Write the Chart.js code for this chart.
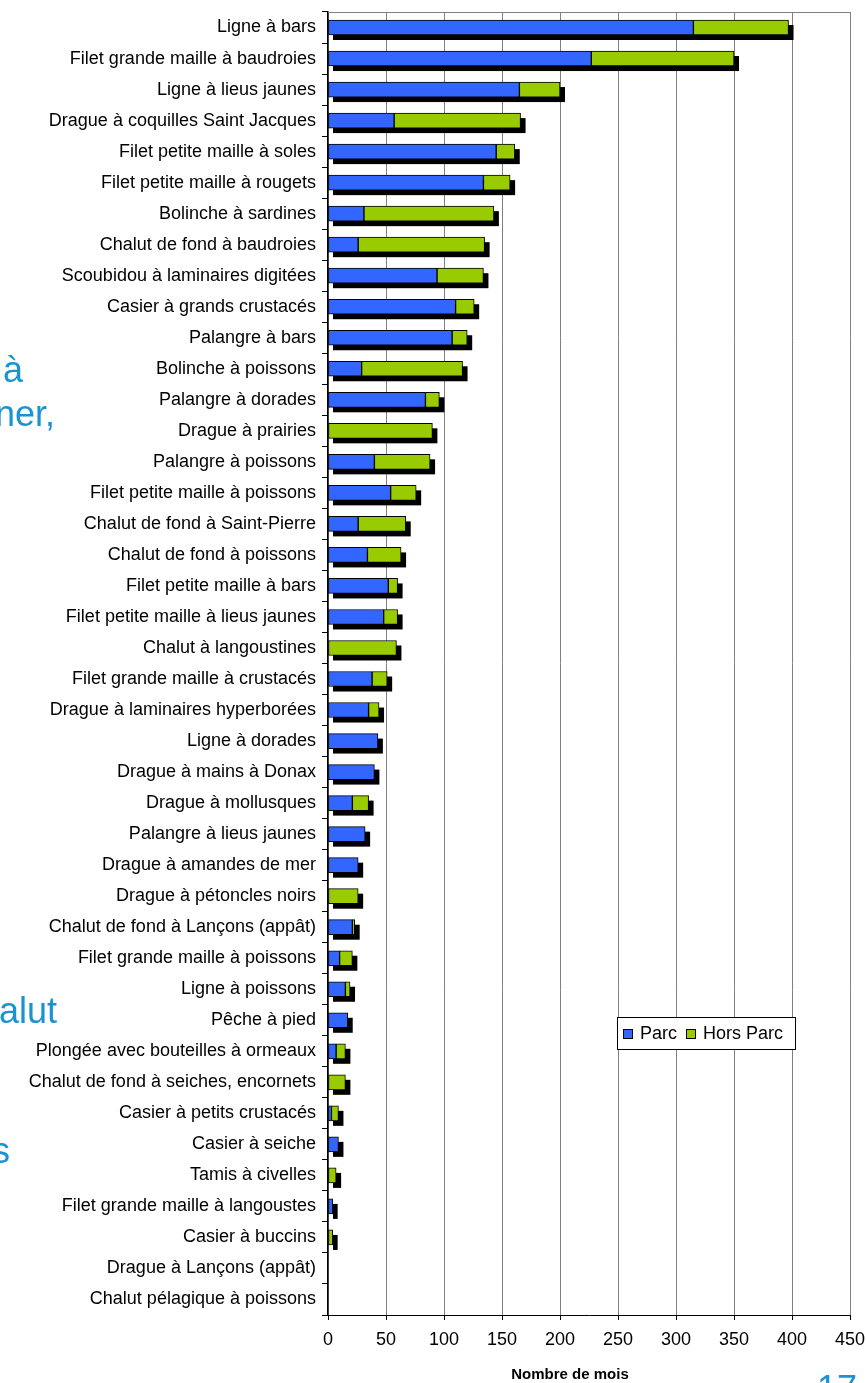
<!DOCTYPE html>
<html lang="fr">
<head>
<meta charset="utf-8">
<title>Nombre de mois par métier</title>
<script src="https://cdn.jsdelivr.net/npm/chart.js@4.4.1/dist/chart.umd.min.js"></script>
<style>
    body { margin: 0; width: 866px; height: 1383px; overflow: hidden; position: relative; background: #fff; }
    canvas { position: absolute; left: 0; top: 0; }
    .frag { position: absolute; font-family: 'Liberation Sans', Arial, sans-serif; font-size: 36px; line-height: 1; color: #1a93d1; white-space: nowrap; }
</style>
</head>
<body>
<canvas id="chart" width="866" height="1383"></canvas>
<div class="frag" style="left:3px;top:352px;">à</div>
<div class="frag" style="left:-5px;top:396px;">ner,</div>
<div class="frag" style="left:-1px;top:993px;">alut</div>
<div class="frag" style="left:-8px;top:1133px;">s</div>
<div class="frag" style="left:817px;top:1371px;">17</div>
<script>
// Métiers, du plus long au plus court
const categories = [
    'Ligne à bars', 'Filet grande maille à baudroies', 'Ligne à lieus jaunes',
    'Drague à coquilles Saint Jacques', 'Filet petite maille à soles', 'Filet petite maille à rougets',
    'Bolinche à sardines', 'Chalut de fond à baudroies', 'Scoubidou à laminaires digitées',
    'Casier à grands crustacés', 'Palangre à bars', 'Bolinche à poissons',
    'Palangre à dorades', 'Drague à prairies', 'Palangre à poissons',
    'Filet petite maille à poissons', 'Chalut de fond à Saint-Pierre', 'Chalut de fond à poissons',
    'Filet petite maille à bars', 'Filet petite maille à lieus jaunes', 'Chalut à langoustines',
    'Filet grande maille à crustacés', 'Drague à laminaires hyperborées', 'Ligne à dorades',
    'Drague à mains à Donax', 'Drague à mollusques', 'Palangre à lieus jaunes',
    'Drague à amandes de mer', 'Drague à pétoncles noirs', 'Chalut de fond à Lançons (appât)',
    'Filet grande maille à poissons', 'Ligne à poissons', 'Pêche à pied',
    'Plongée avec bouteilles à ormeaux', 'Chalut de fond à seiches, encornets', 'Casier à petits crustacés',
    'Casier à seiche', 'Tamis à civelles', 'Filet grande maille à langoustes',
    'Casier à buccins', 'Drague à Lançons (appât)', 'Chalut pélagique à poissons'
];

const parc = [
    315, 227, 165, 57, 145, 134, 31, 26, 94, 110, 107, 29, 84, 0,
    40, 54, 26, 34, 52, 48, 0, 38, 35, 43, 40, 21, 32, 26,
    0, 21, 10, 15, 17, 7, 0, 3, 9, 0, 4, 0, 0, 0
];

const horsParc = [
    82, 123, 35, 109, 16, 23, 112, 109, 40, 16, 13, 87, 12, 90,
    48, 22, 41, 29, 8, 12, 59, 13, 9, 0, 0, 14, 0, 0,
    26, 2, 11, 4, 0, 8, 15, 6, 0, 7, 0, 4, 0, 0
];

const xTicks = [0, 50, 100, 150, 200, 250, 300, 350, 400, 450];

const BLUE = '#3366ff';
const GREEN = '#99cc00';
const FONT = "'Liberation Sans', Arial, sans-serif";
const BAR_H = 15;

// ombre noire décalée derrière chaque barre (style Excel)
const shadowPlugin = {
    id: 'shadow',
    beforeDatasetsDraw(chart) {
        const { ctx, scales: { x, y }, chartArea } = chart;
        ctx.save();
        // bordure haute de la zone de traçage
        ctx.strokeStyle = '#808080';
        ctx.lineWidth = 1;
        ctx.beginPath();
        ctx.moveTo(chartArea.left, chartArea.top + 0.5);
        ctx.lineTo(chartArea.right, chartArea.top + 0.5);
        ctx.stroke();

        ctx.fillStyle = '#000';
        categories.forEach((c, i) => {
            const total = parc[i] + horsParc[i];
            if (!total) return;
            const x0 = x.getPixelForValue(0);
            const x1 = x.getPixelForValue(total);
            const yc = y.getPixelForValue(i);
            ctx.fillRect(x0 + 5, yc - BAR_H / 2 + 5, x1 - x0, BAR_H);
        });
        ctx.restore();
    }
};

// légende encadrée dans la zone de traçage + titre de l'axe
const legendPlugin = {
    id: 'boxLegend',
    afterDraw(chart) {
        const { ctx, chartArea } = chart;
        const left = chartArea.left + 289;
        const top = chartArea.top + 1005;
        ctx.save();
        ctx.fillStyle = '#fff';
        ctx.fillRect(left, top, 178, 32);
        ctx.strokeStyle = '#000';
        ctx.lineWidth = 1;
        ctx.strokeRect(left + 0.5, top + 0.5, 178, 32);

        const items = [{ text: 'Parc', color: BLUE, dx: 6 }, { text: 'Hors Parc', color: GREEN, dx: 69 }];
        ctx.font = '18px ' + FONT;
        ctx.textBaseline = 'middle';
        items.forEach(it => {
            ctx.fillStyle = it.color;
            ctx.fillRect(left + it.dx, top + 12, 9, 9);
            ctx.strokeRect(left + it.dx + 0.5, top + 12.5, 9, 9);
            ctx.fillStyle = '#000';
            ctx.fillText(it.text, left + it.dx + 17, top + 17);
        });

        ctx.font = 'bold 15px ' + FONT;
        ctx.textAlign = 'center';
        ctx.fillText('Nombre de mois', chartArea.left + 242, chartArea.bottom + 60);
        ctx.restore();
    }
};

function initChart() {
    const ctx = document.getElementById('chart').getContext('2d');
    new Chart(ctx, {
        type: 'bar',
        data: {
            labels: categories,
            datasets: [
                {
                    label: 'Parc',
                    data: parc.map(v => v || null),
                    backgroundColor: BLUE,
                    borderColor: '#000',
                    borderWidth: 1,
                    borderSkipped: false,
                    barThickness: BAR_H
                },
                {
                    label: 'Hors Parc',
                    data: horsParc.map(v => v || null),
                    backgroundColor: GREEN,
                    borderColor: '#000',
                    borderWidth: 1,
                    borderSkipped: false,
                    barThickness: BAR_H
                }
            ]
        },
        options: {
            indexAxis: 'y',
            responsive: false,
            animation: false,
            layout: { padding: { top: 12, right: 16, left: 0, bottom: 0 } },
            plugins: {
                legend: { display: false },
                tooltip: { enabled: false }
            },
            scales: {
                x: {
                    stacked: true,
                    min: 0,
                    max: 450,
                    afterBuildTicks: (scale) => { scale.ticks = xTicks.map(v => ({ value: v })); },
                    afterFit: (scale) => {
                        scale.height = 68;
                        scale.paddingLeft = 0;
                        scale.paddingRight = 0;
                    },
                    grid: { color: '#808080', lineWidth: 1, tickColor: '#000', tickLength: 5 },
                    border: { color: '#000', width: 1 },
                    ticks: { color: '#000', font: { family: FONT, size: 18 }, padding: 9, maxRotation: 0 }
                },
                y: {
                    stacked: true,
                    afterFit: (scale) => {
                        scale.width = 328;
                        scale.paddingTop = 0;
                        scale.paddingBottom = 0;
                    },
                    grid: { drawOnChartArea: false, drawTicks: true, tickLength: 6, color: '#000', offset: true },
                    border: { color: '#000', width: 1.5 },
                    ticks: { color: '#000', font: { family: FONT, size: 18 }, padding: 6, autoSkip: false }
                }
            }
        },
        plugins: [shadowPlugin, legendPlugin]
    });
}

window.onload = initChart;
</script>
</body>
</html>
